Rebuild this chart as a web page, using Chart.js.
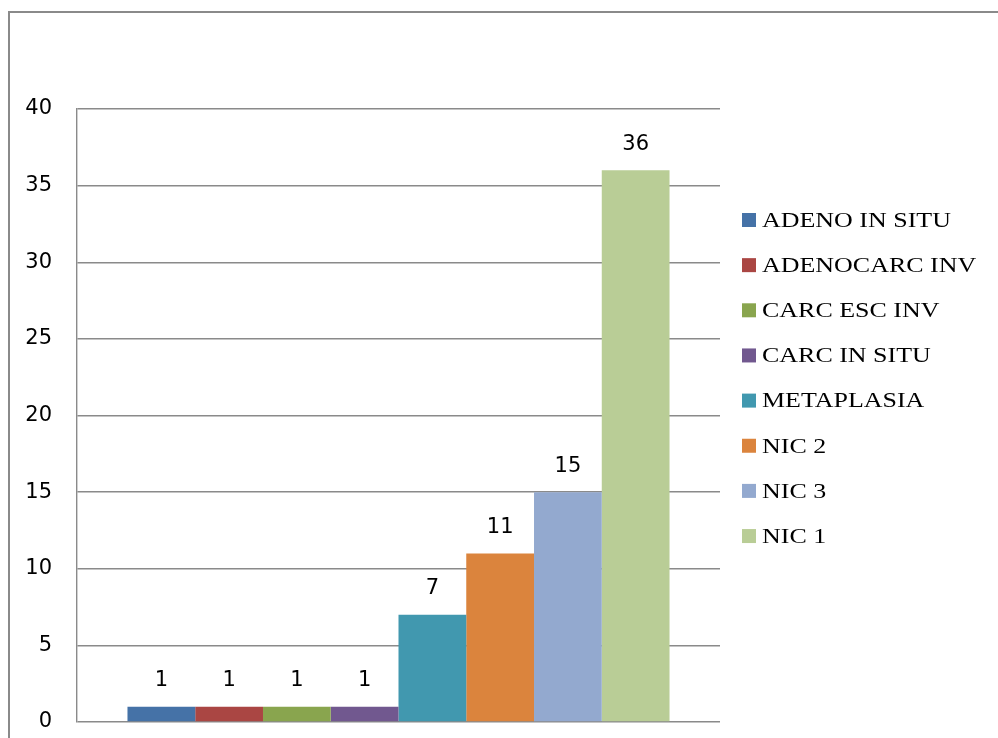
<!DOCTYPE html>
<html>
<head>
<meta charset="utf-8">
<script src="https://cdn.jsdelivr.net/npm/chart.js@4"></script>
<style>
html,body{margin:0;padding:0;background:#fff;overflow:hidden;}
canvas{display:block;}
</style>
</head>
<body>
<canvas id="c" width="998" height="738"></canvas>
<script>
const seriesNames = ["ADENO IN SITU","ADENOCARC INV","CARC ESC INV","CARC IN SITU","METAPLASIA","NIC 2","NIC 3","NIC 1"];
const seriesValues = [1, 1, 1, 1, 7, 11, 15, 36];
const seriesColors = ["#4572A7","#AA4643","#89A54E","#71588F","#4198AF","#DB843D","#93A9CF","#B9CD96"];
const categories = [""];
const yTicks = [0, 5, 10, 15, 20, 25, 30, 35, 40];

const datasets = seriesNames.map((n, i) => ({
  label: n,
  data: [seriesValues[i]],
  backgroundColor: seriesColors[i],
  borderWidth: 0,
  categoryPercentage: 0.843,
  barPercentage: 1.0
}));

const frame = {
  id: 'frame',
  beforeDraw(chart) {
    const ctx = chart.ctx;
    ctx.save();
    ctx.fillStyle = '#fff';
    ctx.fillRect(0, 0, chart.width, chart.height);
    ctx.strokeStyle = '#8a8a8a';
    ctx.lineWidth = 2;
    ctx.strokeRect(9, 12, 1300, 1000);
    ctx.restore();
  }
};

const labels = {
  id: 'valueLabels',
  afterDatasetsDraw(chart) {
    const ctx = chart.ctx;
    ctx.save();
    ctx.font = '21px "DejaVu Sans", sans-serif';
    ctx.fillStyle = '#000';
    ctx.textAlign = 'center';
    ctx.textBaseline = 'middle';
    chart.data.datasets.forEach((ds, i) => {
      const meta = chart.getDatasetMeta(i);
      meta.data.forEach((bar, j) => {
        ctx.fillText(String(ds.data[j]), bar.x, bar.y - 26);
      });
    });
    ctx.restore();
  }
};

const legendPlugin = {
  id: 'sideLegend',
  afterDraw(chart) {
    const ctx = chart.ctx;
    chart.data.datasets.forEach((ds, i) => {
      const cy = 220 + i * 45.15;
      ctx.save();
      ctx.fillStyle = ds.backgroundColor;
      ctx.fillRect(742, cy - 7, 14, 14);
      ctx.translate(762, cy + 1);
      ctx.scale(1.18, 1);
      ctx.font = '22px "Liberation Serif", "Times New Roman", serif';
      ctx.textAlign = 'left';
      ctx.textBaseline = 'middle';
      ctx.fillStyle = '#000';
      ctx.fillText(ds.label, 0, 0);
      ctx.restore();
    });
  }
};

new Chart(document.getElementById('c'), {
  type: 'bar',
  data: { labels: categories, datasets },
  options: {
    responsive: false,
    animation: false,
    layout: { padding: { left: 0, top: 109, right: 278, bottom: 16 } },
    plugins: { legend: { display: false }, tooltip: { enabled: false } },
    scales: {
      x: { display: false },
      y: {
        min: 0, max: 40,
        afterFit(scale) { scale.width = 77; scale.paddingTop = 0; scale.paddingBottom = 0; },
        afterBuildTicks(scale) { scale.ticks = yTicks.map(v => ({ value: v })); },
        ticks: {
          stepSize: 5,
          padding: 25,
          color: '#000',
          font: { family: '"DejaVu Sans", sans-serif', size: 21 }
        },
        grid: { color: '#8a8a8a', lineWidth: 1.4, drawTicks: false },
        border: { display: true, color: '#8a8a8a', width: 1.4 }
      }
    }
  },
  plugins: [frame, labels, legendPlugin]
});
</script>
</body>
</html>
